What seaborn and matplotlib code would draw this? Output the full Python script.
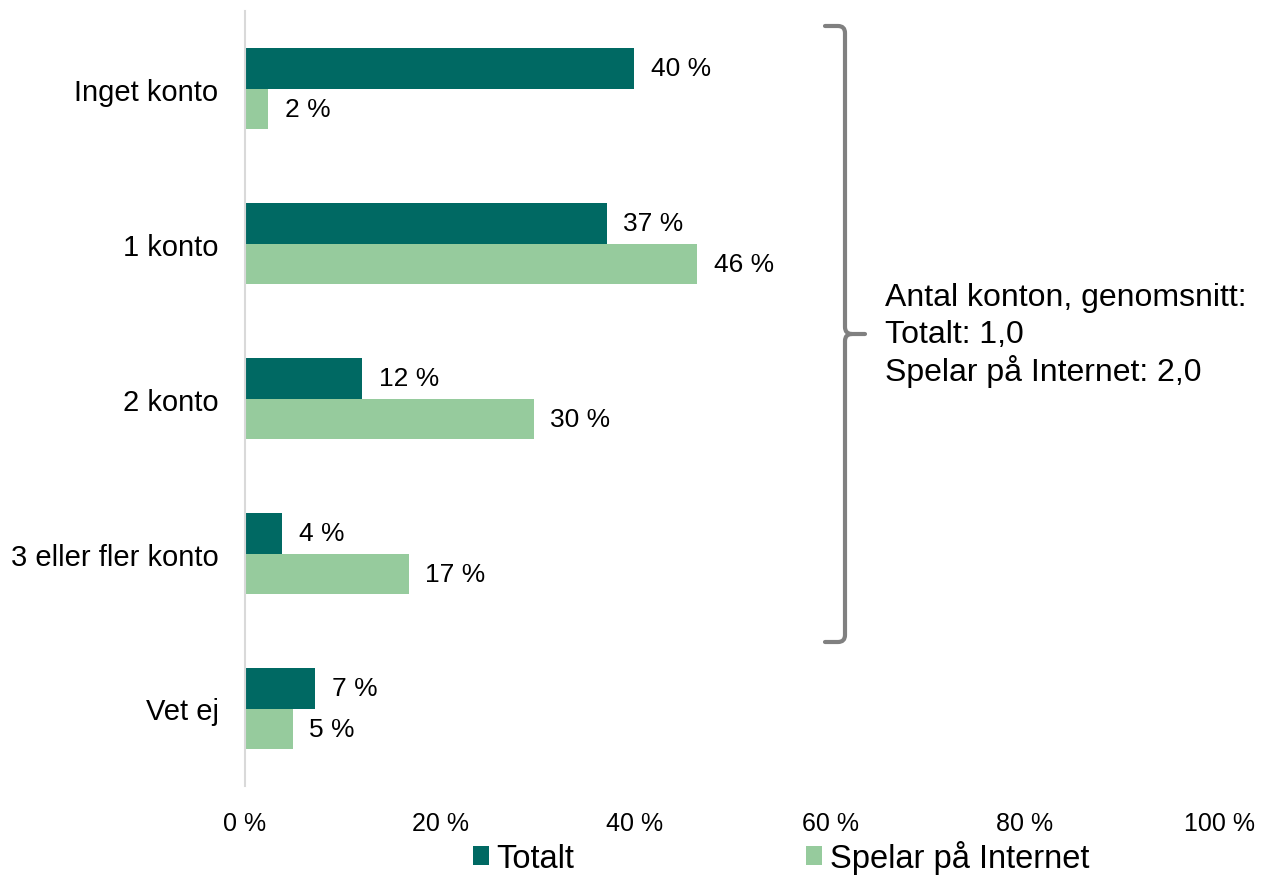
import numpy as np
import pandas as pd
import seaborn as sns
import matplotlib.pyplot as plt
from matplotlib.path import Path
from matplotlib.patches import PathPatch
from matplotlib.transforms import Affine2D

# data
categories = ["Inget konto", "1 konto", "2 konto", "3 eller fler konto", "Vet ej"]
totalt = [39.9, 37.1, 12.0, 3.8, 7.2]
internet = [2.4, 46.4, 29.6, 16.8, 4.9]
series = ["Totalt", "Spelar på Internet"]
xticks = [0, 20, 40, 60, 80, 100]
note_lines = ["Antal konton, genomsnitt:", "Totalt: 1,0", "Spelar på Internet: 2,0"]

colors = ["#006963", "#96CB9D"]

df = pd.DataFrame({
    "kategori": categories * 2,
    "andel": totalt + internet,
    "grupp": [series[0]] * len(categories) + [series[1]] * len(categories),
})

sns.set_theme(style="white")
plt.rcParams["font.family"] = ["Liberation Sans", "DejaVu Sans"]
plt.rcParams["text.color"] = "black"
plt.rcParams["xtick.color"] = "black"
plt.rcParams["ytick.color"] = "black"

W, H = 1261, 878
fig = plt.figure(figsize=(W / 100, H / 100), dpi=100)
ax = fig.add_axes([245 / W, 1 - 787 / H, 975 / W, 775 / H])

sns.barplot(data=df, y="kategori", x="andel", hue="grupp", orient="h",
            palette=colors, width=0.52, ax=ax, saturation=1, linewidth=0)

for cont in ax.containers:
    ax.bar_label(cont, labels=[f"{round(v)} %" for v in cont.datavalues],
                 padding=12, fontsize=19, color="black")

ax.set_xlim(0, 100)
ax.set_xticks(xticks)
ax.set_xticklabels([f"{t} %" for t in xticks], fontsize=18)
ax.tick_params(axis="x", length=0, pad=18)
ax.tick_params(axis="y", length=0, pad=19, labelsize=21)
ax.set_xlabel("")
ax.set_ylabel("")
for s in ["top", "right", "bottom"]:
    ax.spines[s].set_visible(False)
ax.spines["left"].set_color("#D9D9D9")
ax.spines["left"].set_linewidth(1.5)

sns.move_legend(ax, "center", bbox_to_anchor=(0.5 * (477 + 1085) / W, 1 - 858 / H),
                bbox_transform=fig.transFigure, ncol=2, frameon=False, title=None,
                fontsize=23.5, handlelength=0.5, handleheight=0.5,
                handletextpad=0.22, columnspacing=7.1)

# curly bracket, drawn in pixel coordinates of the figure
px = Affine2D().scale(1 / W, -1 / H).translate(0, 1) + fig.transFigure
verts = [(825, 27), (838, 27), (845, 27), (845, 34), (845, 328), (845, 335),
         (852, 335), (865, 335),
         (852, 335), (845, 335), (845, 342), (845, 636), (845, 643),
         (838, 643), (825, 643)]
codes = [Path.MOVETO, Path.LINETO, Path.CURVE3, Path.CURVE3, Path.LINETO,
         Path.CURVE3, Path.CURVE3, Path.LINETO,
         Path.MOVETO, Path.CURVE3, Path.CURVE3, Path.LINETO, Path.CURVE3,
         Path.CURVE3, Path.LINETO]
fig.patches.append(PathPatch(Path(verts, codes), transform=px, fill=False,
                             edgecolor="#808080", linewidth=3,
                             capstyle="round", joinstyle="round"))

for i, line in enumerate(note_lines):
    fig.text(885 / W, 1 - (298 + 37 * i) / H, line, fontsize=23,
             ha="left", va="center", color="black")

fig.savefig("out.png", dpi=100)
